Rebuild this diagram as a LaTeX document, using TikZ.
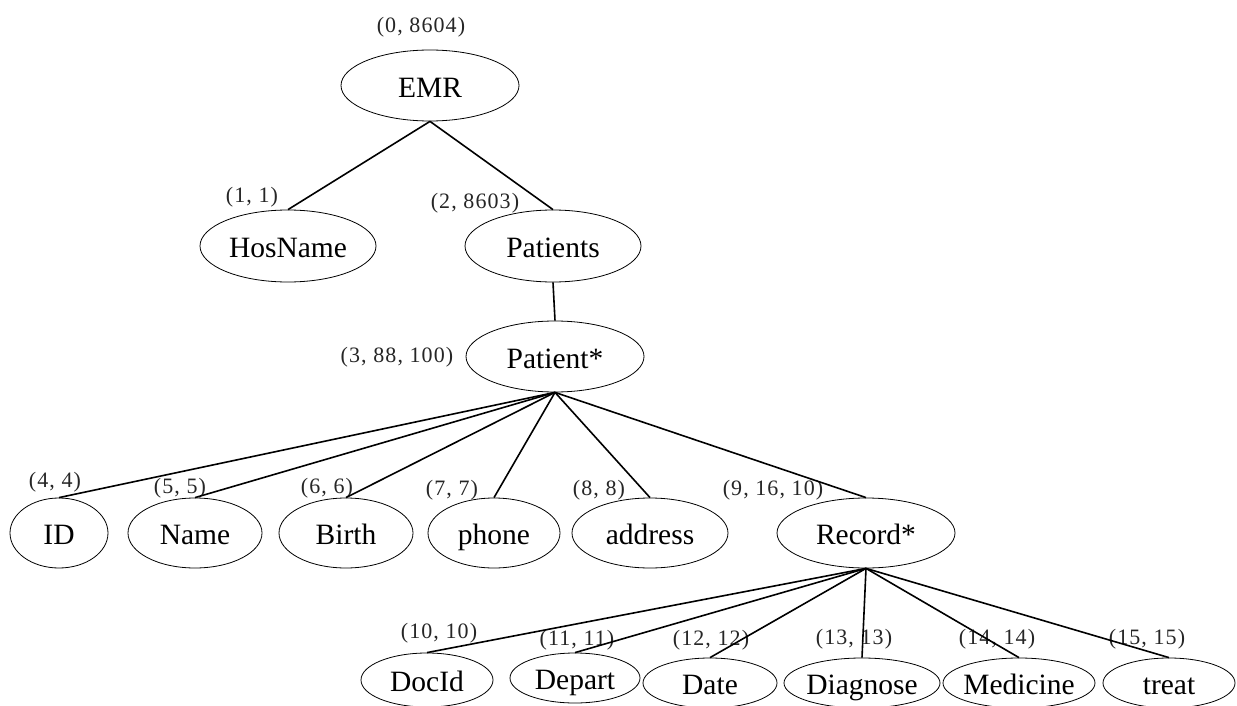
\documentclass[tikz,border=0pt]{standalone}
\usepackage{fontspec}
\setmainfont{Liberation Serif}
\newfontfamily\lblfont[LetterSpace=5]{Liberation Serif}
\usetikzlibrary{shapes.geometric}
\newcommand{\Z}[1]{\makebox[0pt][c]{#1}}
\tikzset{
  elnode/.style={ellipse, draw=black, line width=0.8pt, inner sep=0pt,
    text height=28pt, text depth=4.5pt,
    font=\fontsize{29.5}{32}\selectfont},
  lbl/.style={inner sep=0pt, text=black!85, font=\lblfont\fontsize{22}{24}\selectfont},
  edge/.style={line width=1.6pt, black}
}
\begin{document}
\begin{tikzpicture}[x=1pt,y=-1pt]
\useasboundingbox (0,0) rectangle (1237,706);
% nodes
\node[elnode, minimum width=178pt, minimum height=71pt] (emr) at (430,85.5) {\Z{EMR}};
\node[elnode, minimum width=176pt, minimum height=72pt] (hos) at (288,246) {\Z{HosName}};
\node[elnode, minimum width=176pt, minimum height=72pt] (pats) at (553,246) {\Z{Patients}};
\node[elnode, minimum width=178pt, minimum height=71pt] (pat) at (555,356.5) {\Z{Patient*}};
\node[elnode, minimum width=98pt, minimum height=70pt] (id) at (59,533) {\Z{ID}};
\node[elnode, minimum width=134pt, minimum height=70pt] (name) at (195,533) {\Z{Name}};
\node[elnode, minimum width=134pt, minimum height=70pt] (birth) at (346,533) {\Z{Birth}};
\node[elnode, minimum width=132pt, minimum height=70pt] (phone) at (494,533) {\Z{phone}};
\node[elnode, minimum width=156pt, minimum height=70pt] (addr) at (650,533) {\Z{address}};
\node[elnode, minimum width=178pt, minimum height=70pt] (rec) at (866,533) {\Z{Record*}};
\node[elnode, minimum width=132pt, minimum height=54pt] (doc) at (427,680) {\Z{DocId}};
\node[elnode, minimum width=130pt, minimum height=50pt] (dep) at (575,678) {\Z{Depart}};
\node[elnode, minimum width=134pt, minimum height=50pt] (date) at (710,683) {\Z{Date}};
\node[elnode, minimum width=156pt, minimum height=50pt] (diag) at (862,683) {\Z{Diagnose}};
\node[elnode, minimum width=152pt, minimum height=50pt] (med) at (1019,683) {\Z{Medicine}};
\node[elnode, minimum width=132pt, minimum height=50pt] (treat) at (1169,683) {\Z{treat}};
% labels
\node[lbl] (l0) at (421,27) {(0, 8604)};
\node[lbl] (l1) at (252,197) {(1, 1)};
\node[lbl] (l2) at (475,203) {(2, 8603)};
\node[lbl] (l3) at (397,357) {(3, 88, 100)};
\node[lbl] (l4) at (55,482) {(4, 4)};
\node[lbl] (l5) at (180,488) {(5, 5)};
\node[lbl] (l6) at (327,488) {(6, 6)};
\node[lbl] (l7) at (452,490) {(7, 7)};
\node[lbl] (l8) at (599,490) {(8, 8)};
\node[lbl] (l9) at (773,490) {(9, 16, 10)};
\node[lbl] (l10) at (439,633) {(10, 10)};
\node[lbl] (l11) at (577,640) {(11, 11)};
\node[lbl] (l12) at (711,640) {(12, 12)};
\node[lbl] (l13) at (854,639) {(13, 13)};
\node[lbl] (l14) at (997,639) {(14, 14)};
\node[lbl] (l15) at (1147,639) {(15, 15)};
% edges
\draw[edge] (emr.south) -- (hos.north);
\draw[edge] (emr.south) -- (pats.north);
\draw[edge] (pats.south) -- (pat.north);
\foreach \c in {id,name,birth,phone,addr,rec}
  \draw[edge] (pat.south) -- (\c.north);
\foreach \c in {doc,dep,date,diag,med,treat}
  \draw[edge] (rec.south) -- (\c.north);
\end{tikzpicture}
\end{document}
